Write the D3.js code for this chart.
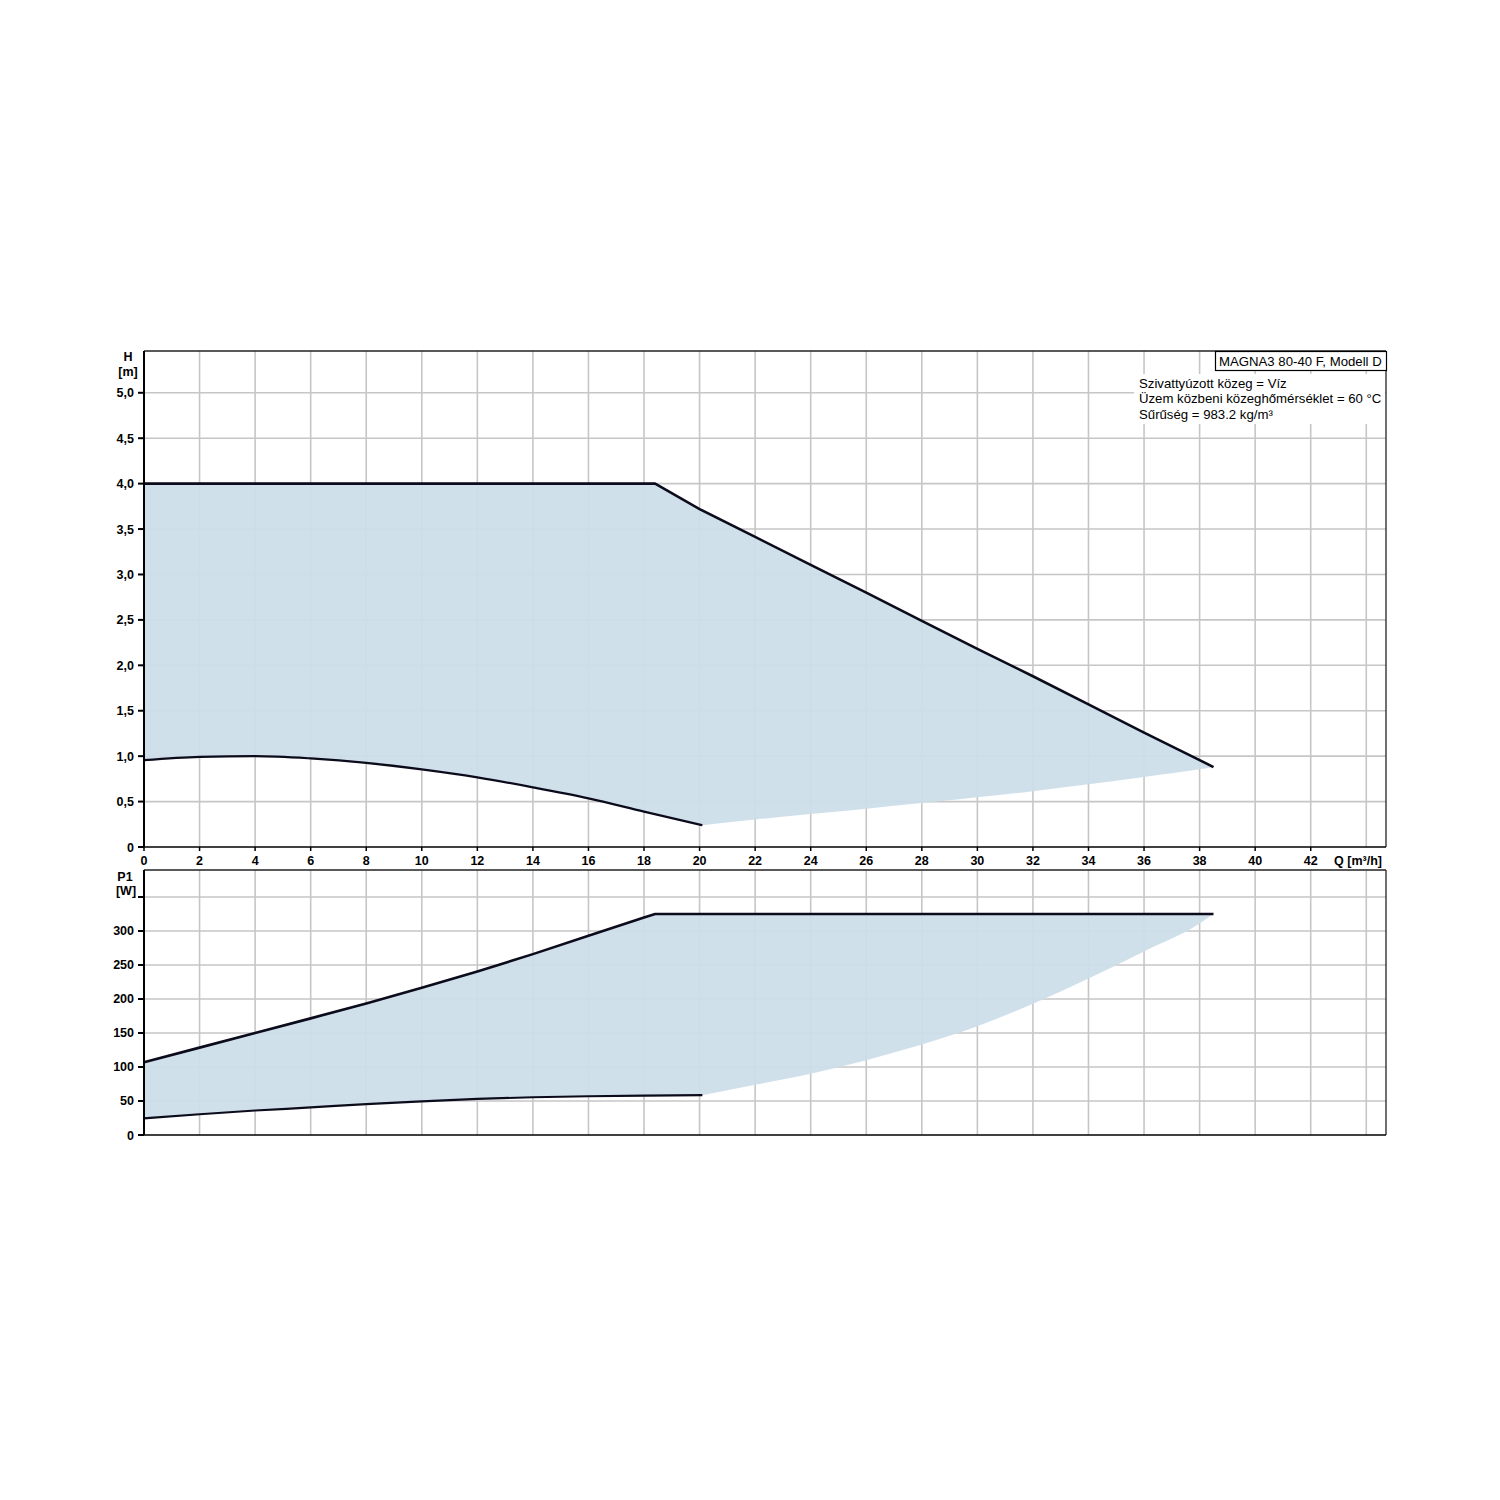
<!DOCTYPE html>
<html>
<head>
<meta charset="utf-8">
<script src="https://cdn.jsdelivr.net/npm/d3@7"></script>
<style>
  html, body { margin: 0; padding: 0; background: #fff; }
  svg { display: block; }
  text { font-family: "Liberation Sans", Arial, sans-serif; fill: #000; }
</style>
</head>
<body>
<svg id="chart" width="1500" height="1500"></svg>
<script>
// ---------- DATA ----------
const qTicks = [0, 2, 4, 6, 8, 10, 12, 14, 16, 18, 20, 22, 24, 26, 28, 30, 32, 34, 36, 38, 40, 42];
const qGrid = [2, 4, 6, 8, 10, 12, 14, 16, 18, 20, 22, 24, 26, 28, 30, 32, 34, 36, 38, 40, 42, 44];
const hTicks = [0, 0.5, 1.0, 1.5, 2.0, 2.5, 3.0, 3.5, 4.0, 4.5, 5.0];
const hTickLabels = ["0", "0,5", "1,0", "1,5", "2,0", "2,5", "3,0", "3,5", "4,0", "4,5", "5,0"];
const pTicks = [0, 50, 100, 150, 200, 250, 300, 350];
const pTickLabels = ["0", "50", "100", "150", "200", "250", "300", ""];

// H (head) curves: [Q, H]
const hMax = [[0, 4.0], [18.4, 4.0], [20, 3.72], [22, 3.413], [24, 3.106], [26, 2.80], [28, 2.49],
              [30, 2.18], [32, 1.88], [34, 1.57], [36, 1.26], [38, 0.957], [38.5, 0.88]];
const hMin = [[0, 0.956], [2, 0.993], [4, 1.0], [6, 0.975], [8, 0.927], [10, 0.854], [12, 0.766],
              [14, 0.657], [16, 0.536], [18, 0.39], [20.1, 0.24]];
const hEnvelope = [[20.1, 0.24], [22, 0.302], [24, 0.362], [26, 0.422], [28, 0.483], [30, 0.547],
                   [32, 0.615], [34, 0.69], [36, 0.77], [38, 0.855], [38.5, 0.88]];

// P1 (power) curves: [Q, P1]
const pMax = [[0, 107], [2, 128.5], [4, 150], [6, 171.5], [8, 193.5], [10, 216.5], [12, 240.5],
              [14, 266], [16, 293], [18, 320], [18.4, 325], [38.5, 325]];
const pMin = [[0, 24.5], [2, 30.5], [4, 36], [6, 40.5], [8, 45.5], [10, 49.5], [12, 53],
              [14, 55.5], [16, 57], [18, 58], [20.1, 58.5]];
const pEnvelope = [[20.1, 58.5], [22, 74], [24, 90], [26, 110], [28, 133], [30, 160], [32, 193],
                   [34, 230], [36, 270], [38, 311], [38.5, 325]];

const titleText = "MAGNA3 80-40 F, Modell D";
const infoLines = ["Szivattyúzott közeg = Víz",
                   "Üzem közbeni közeghőmérséklet = 60 °C",
                   "Sűrűség = 983.2 kg/m³"];

// ---------- LAYOUT ----------
const svg = d3.select("#chart");
const X0 = 144, X1 = 1386;
const x = d3.scaleLinear().domain([0, 44.71]).range([X0, X1]);

const panelH = { y0: 847, y1: 351 };
const panelP = { y0: 1135, y1: 870 };
const yH = d3.scaleLinear().domain([0, 5.46]).range([panelH.y0, panelH.y1]);
const yP = d3.scaleLinear().domain([0, 389.7]).range([panelP.y0, panelP.y1]);

const FILL = "#cddeea";
const LINE = "#0b0b1c";
const GRID = "#c6c6c6";

const defs = svg.append("defs");
defs.append("filter").attr("id", "soft").append("feGaussianBlur").attr("stdDeviation", 0.7);

function panel(yScale, p, yTicks, yLabels, maxC, minC, envC) {
  const g = svg.append("g");
  // grid
  g.selectAll(".vg").data(qGrid).enter().append("line")
    .attr("x1", d => x(d)).attr("x2", d => x(d))
    .attr("y1", p.y0).attr("y2", p.y1)
    .attr("stroke", GRID).attr("stroke-width", 1.6);
  g.selectAll(".hg").data(yTicks.filter(d => d > 0)).enter().append("line")
    .attr("x1", X0).attr("x2", X1)
    .attr("y1", d => yScale(d)).attr("y2", d => yScale(d))
    .attr("stroke", GRID).attr("stroke-width", 1.6);

  // fill
  const lineS = d3.line().x(d => x(d[0])).y(d => yScale(d[1])).curve(d3.curveMonotoneX);
  const lineL = d3.line().x(d => x(d[0])).y(d => yScale(d[1]));
  const up = lineL(maxC);
  const env = lineS(envC.slice().reverse()).replace(/^M/, "L");
  const lo = lineS(minC.slice().reverse()).replace(/^M/, "L");
  g.append("path").attr("d", up + env + lo + "Z")
    .attr("fill", FILL).attr("fill-opacity", 0.95).attr("stroke", "none").attr("filter", "url(#soft)");

  // curves
  g.append("path").attr("d", lineL(maxC)).attr("fill", "none")
    .attr("stroke", LINE).attr("stroke-width", 2.6).attr("stroke-linejoin", "round");
  g.append("path").attr("d", lineS(minC)).attr("fill", "none")
    .attr("stroke", LINE).attr("stroke-width", 2.2).attr("stroke-linejoin", "round");

  // frame
  g.append("line").attr("x1", X0).attr("x2", X1).attr("y1", p.y1).attr("y2", p.y1)
    .attr("stroke", "#222").attr("stroke-width", 1.3);
  g.append("line").attr("x1", X1).attr("x2", X1).attr("y1", p.y1).attr("y2", p.y0)
    .attr("stroke", "#222").attr("stroke-width", 1.3);
  g.append("line").attr("x1", X0).attr("x2", X1).attr("y1", p.y0).attr("y2", p.y0)
    .attr("stroke", "#000").attr("stroke-width", 1.6);
  g.append("line").attr("x1", X0).attr("x2", X0).attr("y1", p.y1).attr("y2", p.y0)
    .attr("stroke", "#000").attr("stroke-width", 2);

  // y ticks
  g.selectAll(".yt").data(yTicks).enter().append("line")
    .attr("x1", X0 - 6).attr("x2", X0)
    .attr("y1", d => yScale(d)).attr("y2", d => yScale(d))
    .attr("stroke", "#000").attr("stroke-width", 2);
  g.selectAll(".yl").data(yTicks).enter().append("text")
    .attr("x", X0 - 10).attr("y", d => yScale(d) + 4.5)
    .attr("text-anchor", "end").attr("font-size", 12.5).attr("font-weight", "bold")
    .text((d, i) => yLabels[i]);
  return g;
}

panel(yH, panelH, hTicks, hTickLabels, hMax, hMin, hEnvelope);
panel(yP, panelP, pTicks, pTickLabels, pMax, pMin, pEnvelope);

// x ticks (top panel)
svg.selectAll(".xt").data(qTicks).enter().append("line")
  .attr("x1", d => x(d)).attr("x2", d => x(d))
  .attr("y1", panelH.y0).attr("y2", panelH.y0 + 4)
  .attr("stroke", "#000").attr("stroke-width", 1.5);
svg.selectAll(".xl").data(qTicks).enter().append("text")
  .attr("x", d => x(d)).attr("y", 864.5)
  .attr("text-anchor", "middle").attr("font-size", 12.5).attr("font-weight", "bold")
  .text(d => d);
svg.append("text").attr("x", 1358).attr("y", 864.5).attr("text-anchor", "middle")
  .attr("font-size", 12.5).attr("font-weight", "bold").text("Q [m³/h]");

// axis titles
svg.append("text").attr("x", 128).attr("y", 361).attr("text-anchor", "middle")
  .attr("font-size", 12.5).attr("font-weight", "bold").text("H");
svg.append("text").attr("x", 128).attr("y", 376).attr("text-anchor", "middle")
  .attr("font-size", 12.5).attr("font-weight", "bold").text("[m]");
svg.append("text").attr("x", 125).attr("y", 881).attr("text-anchor", "middle")
  .attr("font-size", 12.5).attr("font-weight", "bold").text("P1");
svg.append("text").attr("x", 126).attr("y", 895).attr("text-anchor", "middle")
  .attr("font-size", 12.5).attr("font-weight", "bold").text("[W]");

// legend
svg.append("rect").attr("x", 1134).attr("y", 374).attr("width", 251).attr("height", 50)
  .attr("fill", "#fff");
svg.append("rect").attr("x", 1215.5).attr("y", 351.5).attr("width", 171).attr("height", 19)
  .attr("fill", "#fff").attr("stroke", "#000").attr("stroke-width", 1.2);
svg.append("text").attr("x", 1219).attr("y", 365.5).attr("font-size", 13.2).text(titleText);
svg.selectAll(".info").data(infoLines).enter().append("text")
  .attr("x", 1139).attr("y", (d, i) => 387.5 + i * 15.8)
  .attr("font-size", 13.2).text(d => d);
</script>
</body>
</html>
